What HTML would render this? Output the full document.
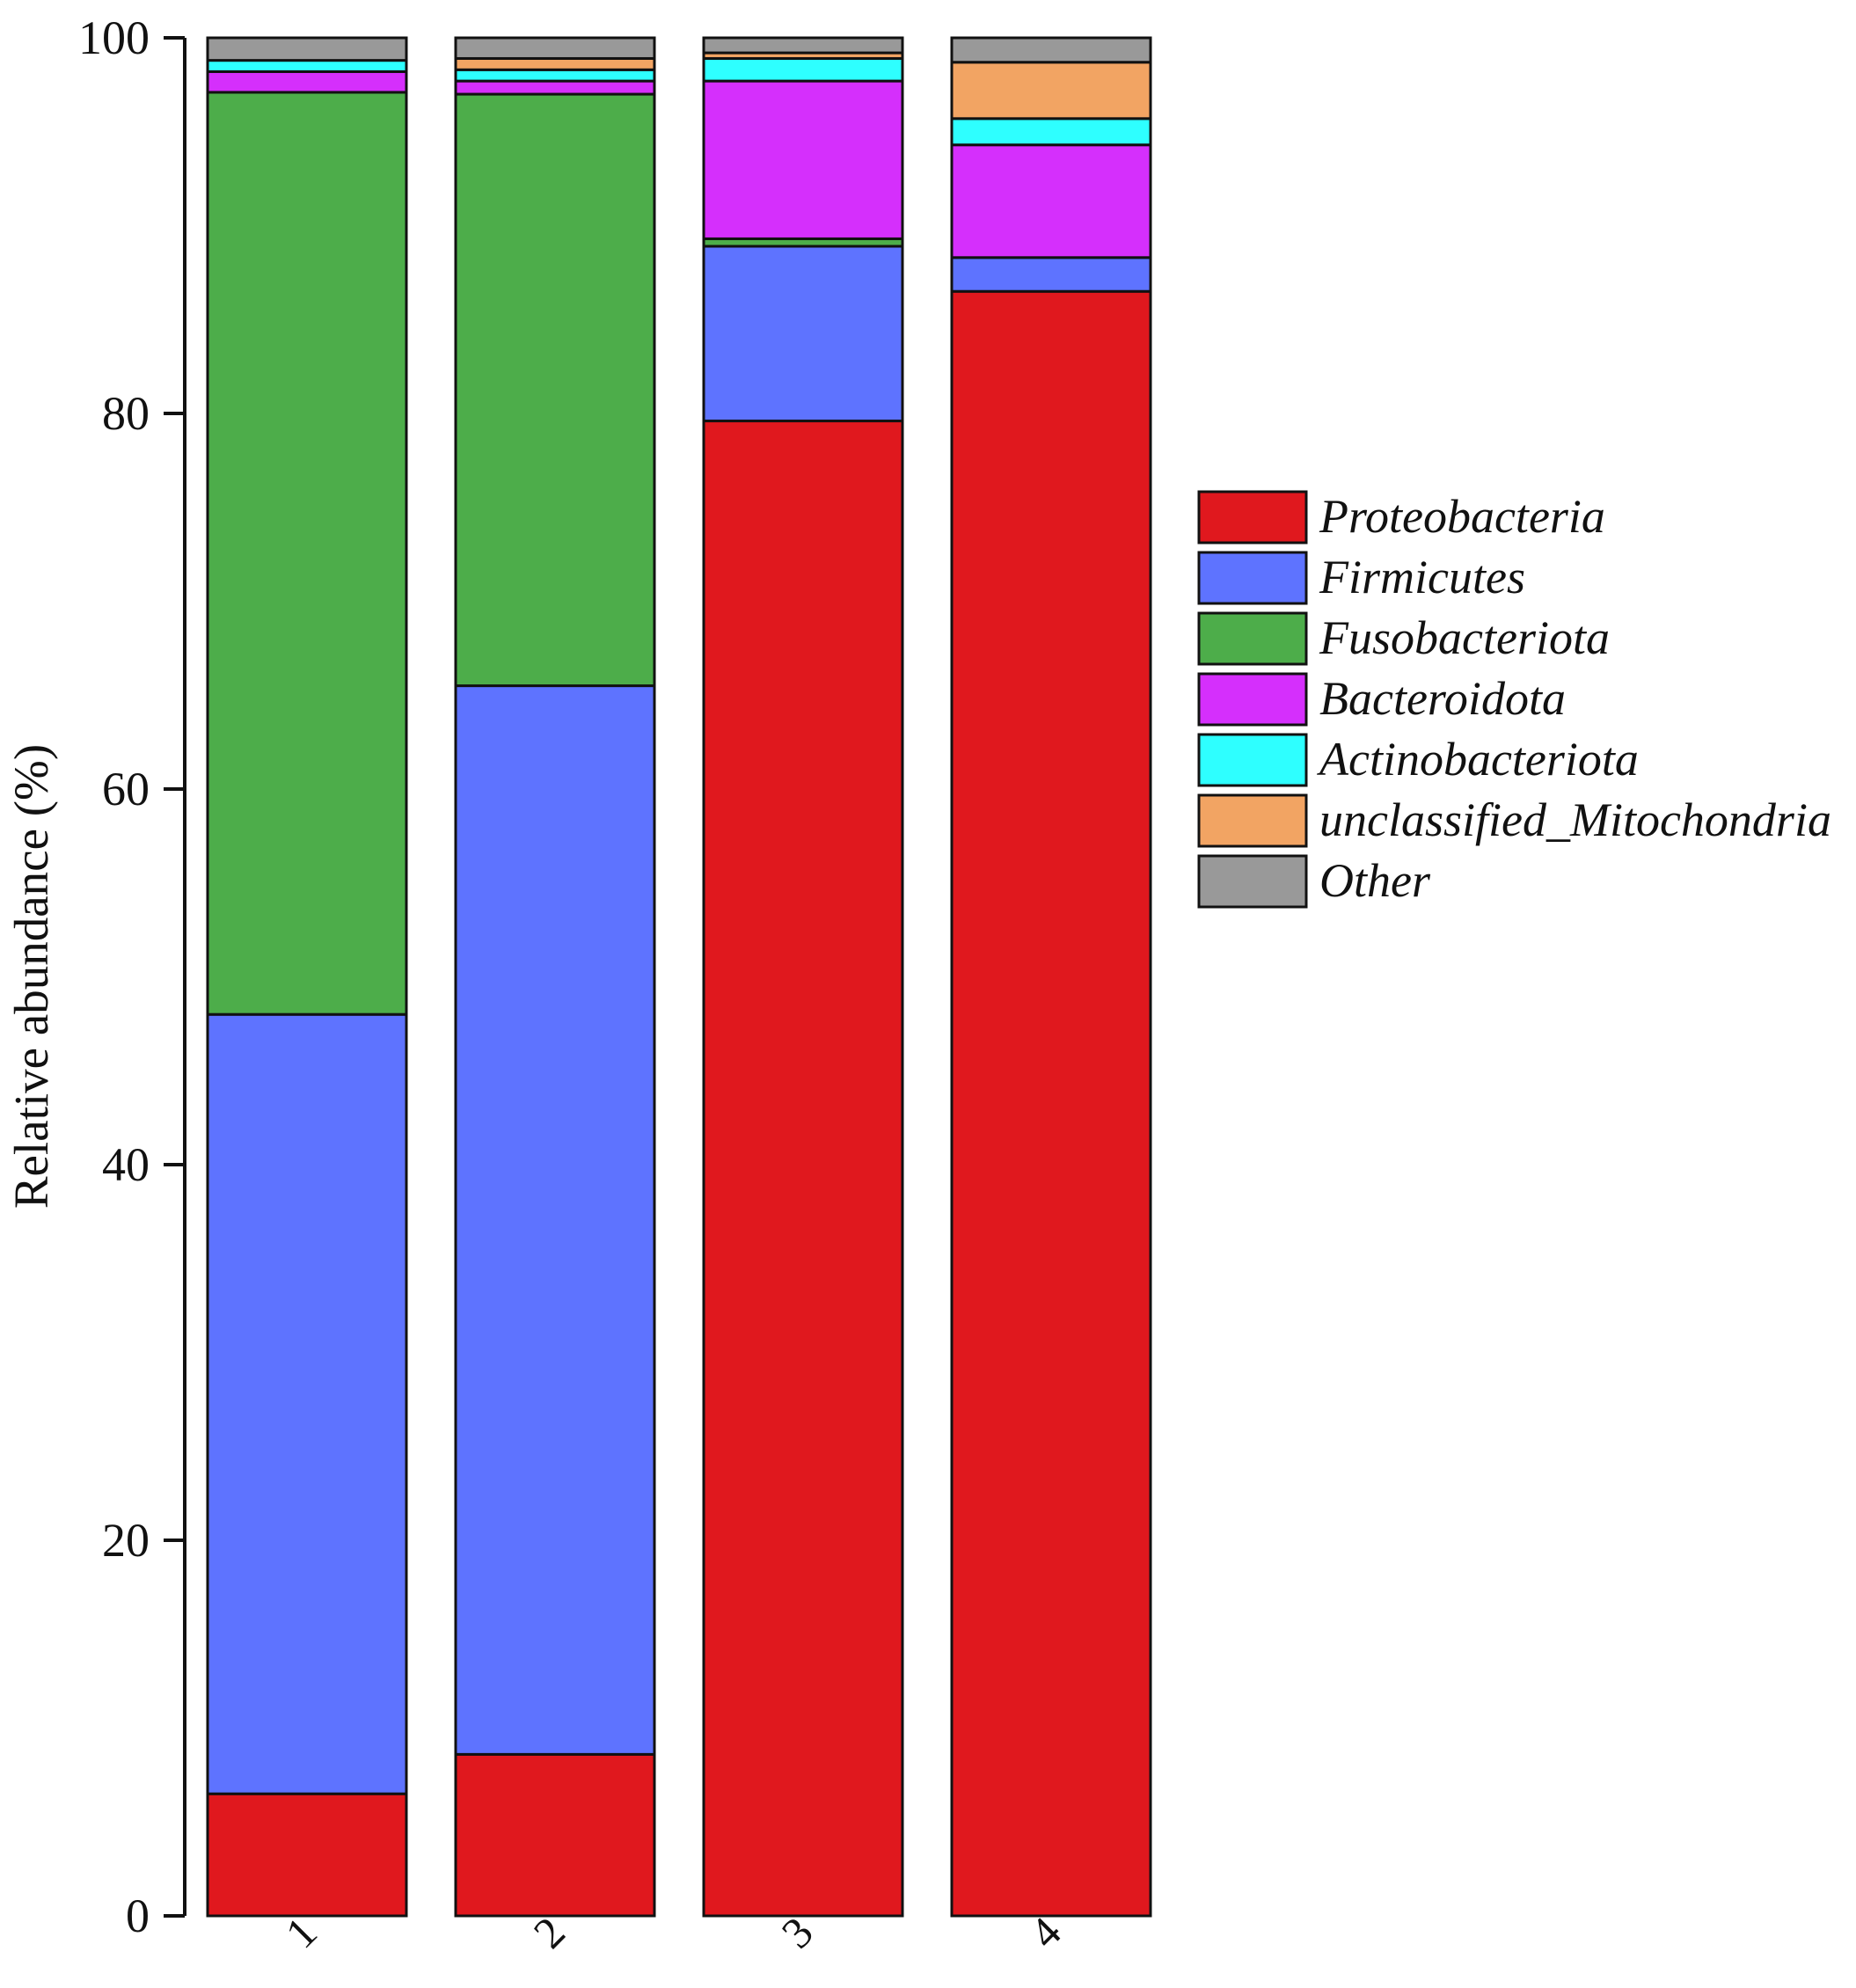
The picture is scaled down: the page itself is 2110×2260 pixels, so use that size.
<!DOCTYPE html>
<html><head><meta charset="utf-8"><style>
html,body{margin:0;padding:0;background:#fff;}
svg{display:block;}
text{font-family:"Liberation Serif",serif;fill:#111;}
</style></head><body>
<svg id="chart" width="2110" height="2260" viewBox="0 0 2110 2260">
<g id="plot"></g>
<g id="yaxis"></g>
<g id="xaxis"></g>
<g id="legend"></g>
<text transform="translate(54,1110) rotate(-90)" text-anchor="middle" font-size="55">Relative abundance (%)</text>
</svg>
<script>
const categories = ["1","2","3","4"];
const seriesNames = ["Proteobacteria","Firmicutes","Fusobacteriota","Bacteroidota","Actinobacteriota","unclassified_Mitochondria","Other"];
const proteobacteria = [6.5, 8.6, 79.6, 86.5];
const firmicutes = [41.5, 56.9, 9.3, 1.8];
const fusobacteriota = [49.1, 31.5, 0.4, 0.0];
const bacteroidota = [1.1, 0.7, 8.4, 6.0];
const actinobacteriota = [0.6, 0.6, 1.2, 1.4];
const mitochondria = [0.0, 0.6, 0.3, 3.0];
const other = [1.2, 1.1, 0.8, 1.3];
const yTicks = [0, 20, 40, 60, 80, 100];
const colors = ["#e0181e","#5e73ff","#4dad4a","#d52ffc","#2effff","#f2a463","#999999"];

const series = [proteobacteria, firmicutes, fusobacteriota, bacteroidota, actinobacteriota, mitochondria, other];
const NS = "http://www.w3.org/2000/svg";
const y0 = 2178, y1 = 43, axisX = 210;
const yScale = v => y0 - (v / 100) * (y0 - y1);
const barW = 226, firstX = 236, step = 282;
const xScale = i => firstX + i * step;

function mk(tag, attrs, parent){ const e=document.createElementNS(NS,tag); for(const k in attrs) e.setAttribute(k,attrs[k]); parent.appendChild(e); return e; }

const plot = document.getElementById('plot');
categories.forEach((c, i) => {
  let cum = 0;
  series.forEach((s, j) => {
    const v = s[i];
    const top = yScale(cum + v), bot = yScale(cum);
    cum += v;
    if (v <= 0) return;
    const r = mk('rect', {x: xScale(i), y: top, width: barW, height: bot - top, fill: colors[j], stroke: '#111', 'stroke-width': 3}, plot);
    
    
  });
});

const yaxis = document.getElementById('yaxis');
const al = mk('line', {x1: axisX, y1: y1, x2: axisX, y2: y0, stroke: '#111', 'stroke-width': 4}, yaxis);


yTicks.forEach(t => {
  const y = yScale(t);
  const tk = mk('line', {x1: axisX - 24, y1: y, x2: axisX, y2: y, stroke: '#111', 'stroke-width': 4}, yaxis);
  
  
  const tx = mk('text', {x: axisX - 40, y: y + 18, 'text-anchor': 'end', 'font-size': 54}, yaxis);
  tx.textContent = t;
  
  
});

const xaxis = document.getElementById('xaxis');
categories.forEach((c, i) => {
  const cx = xScale(i) + barW / 2;
  const tx = mk('text', {transform: `translate(${cx+14},${2200}) rotate(-45)`, 'text-anchor': 'end', 'font-size': 50}, xaxis);
  tx.textContent = c;
  
  
});

const legend = document.getElementById('legend');
seriesNames.forEach((n, j) => {
  const y = 559 + j * 69;
  const g = mk('g', {}, legend);
  
  
  const r = mk('rect', {x: 1363, y: y, width: 122, height: 58, fill: colors[j], stroke: '#111', 'stroke-width': 3}, g);
  
  
  const t = mk('text', {x: 1500, y: y + 46, 'font-size': 54, 'font-style': 'italic'}, g);
  t.textContent = n;
  
  
});
</script>
</body></html>
